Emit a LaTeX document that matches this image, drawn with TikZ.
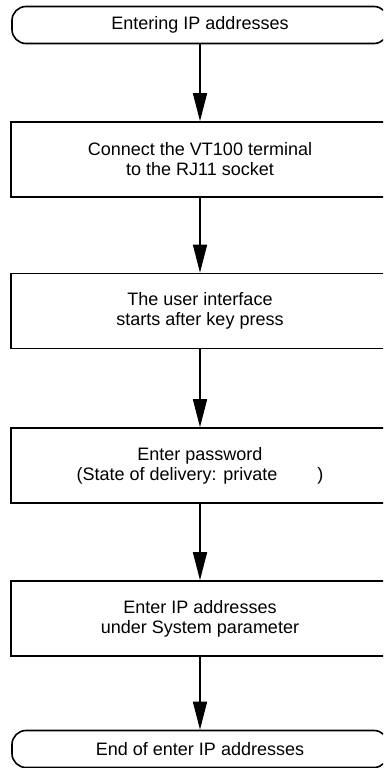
\documentclass[tikz,border=0pt]{standalone}
\usepackage{fontspec}
\setmainfont{Liberation Sans}
\usetikzlibrary{arrows.meta}

\begin{document}
\begin{tikzpicture}[
  x=1pt,
  y=-1pt,
  every node/.style={
    font=\fontsize{18}{20}\selectfont,
    align=center,
    inner sep=0pt
  },
  terminal/.style={draw, line width=1.6pt, rounded corners=14pt, minimum width=376pt, minimum height=37pt},
  process/.style={draw, line width=1.6pt, minimum width=378pt, minimum height=75pt},
  flow/.style={line width=1.6pt, -{Triangle[length=28pt,width=14pt]}}
]
  \useasboundingbox (0,0) rectangle (383,768);
  \clip (0,0) rectangle (383,768);
  \node[terminal] (start) at (200,25) {Entering IP addresses};
  \node[process] (connect) at (200,159.5) {Connect the VT100 terminal\\to the RJ11 socket};
  \node[process] (ui) at (200,311) {The user interface\\starts after key press};
  \node[process] (pwd) at (200,465.5) {Enter password\\(State of delivery: private\hspace{40pt})};
  \node[process] (ipaddr) at (200,618.5) {Enter IP addresses\\under System parameter};
  \node[terminal] (stop) at (200,749) {End of enter IP addresses};
  \foreach \a/\b in {start/connect,connect/ui,ui/pwd,pwd/ipaddr,ipaddr/stop}
    \draw[flow] (\a.south) -- (\b.north);
\end{tikzpicture}
\end{document}
